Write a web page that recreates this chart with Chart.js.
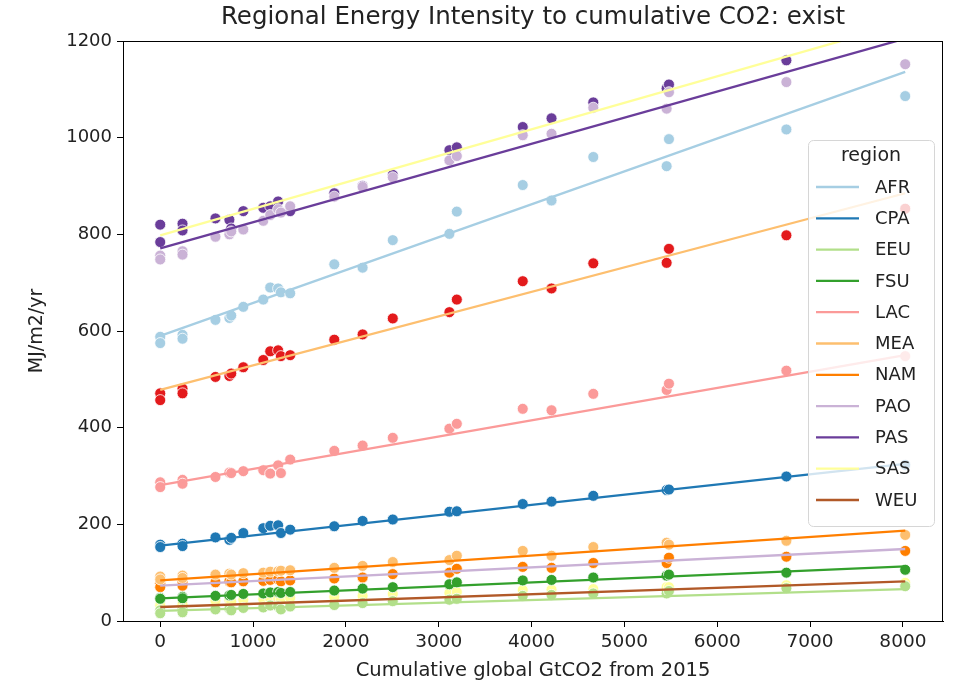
<!DOCTYPE html>
<html>
<head>
<meta charset="utf-8">
<script src="https://cdn.jsdelivr.net/npm/chart.js@4"></script>
<style>
  html, body { margin: 0; padding: 0; background: #fff; }
  #wrap { width: 956px; height: 686px; }
</style>
</head>
<body>
<div id="wrap"><canvas id="chart" width="956" height="686"></canvas></div>
<script>
// regions, in legend order
const regions = ['AFR', 'CPA', 'EEU', 'FSU', 'LAC', 'MEA', 'NAM', 'PAO', 'PAS', 'SAS', 'WEU'];

// cumulative global GtCO2 from 2015 (shared by all regions)
const cumCO2 = [0, 0, 240, 240, 595, 745, 765, 895, 1110, 1185, 1270, 1300, 1400, 1875, 2180, 2505, 3115, 3195, 3905, 4215, 4665, 5455, 5480, 6745, 8025];

// energy intensity MJ/m2/yr per region
const AFR = [588, 575, 592, 584, 623, 627, 632, 650, 665, 690, 688, 680, 678, 738, 731, 788, 801, 847, 902, 870, 960, 941, 997, 1017, 1086];
const CPA = [158, 153, 160, 155, 173, 168, 172, 182, 192, 197, 198, 182, 189, 196, 207, 210, 226, 227, 242, 247, 259, 271, 272, 299, 323];
const EEU = [22, 16, 24, 18, 24, 25, 22, 27, 28, 32, 30, 24, 30, 33, 37, 41, 44, 46, 52, 54, 57, 57, 62, 68, 72];
const FSU = [48, 46, 50, 47, 52, 53, 54, 56, 57, 59, 60, 58, 60, 63, 67, 70, 76, 80, 84, 85, 90, 94, 96, 100, 106];
const LAC = [287, 277, 292, 284, 298, 307, 306, 310, 312, 305, 322, 306, 334, 352, 363, 379, 398, 408, 439, 436, 470, 478, 491, 518, 548];
const MEA = [471, 457, 481, 471, 505, 507, 512, 525, 540, 558, 560, 548, 550, 582, 593, 626, 639, 665, 703, 688, 740, 741, 770, 798, 853];
const NAM = [92, 86, 94, 89, 96, 98, 96, 99, 100, 102, 103, 104, 105, 110, 114, 122, 126, 135, 145, 135, 153, 162, 158, 166, 178];
const PAO = [78, 70, 80, 73, 80, 82, 80, 82, 83, 85, 86, 82, 84, 88, 90, 97, 100, 108, 112, 110, 120, 120, 131, 133, 145];
const PAS = [756, 748, 765, 758, 795, 800, 806, 810, 828, 840, 852, 845, 858, 878, 898, 918, 953, 962, 1005, 1008, 1062, 1060, 1094, 1115, 1152];
const SAS = [820, 784, 822, 808, 833, 830, 812, 848, 855, 858, 868, 846, 848, 885, 900, 923, 974, 980, 1022, 1040, 1073, 1102, 1110, 1160, 1235];
const WEU = [36, 32, 38, 34, 42, 43, 40, 44, 45, 46, 47, 44, 48, 50, 52, 56, 58, 60, 64, 65, 66, 70, 70, 74, 79];
const series = [AFR, CPA, EEU, FSU, LAC, MEA, NAM, PAO, PAS, SAS, WEU];

// fitted trend lines, value at x = 0 and at the last x
const fitStart = [590, 156, 21, 47, 281, 478, 84, 73, 771, 798, 29];
const fitEnd = [1136, 325, 66, 113, 550, 885, 187, 149, 1205, 1238, 82];

const xTicks = [0, 1000, 2000, 3000, 4000, 5000, 6000, 7000, 8000];
const yTicks = [0, 200, 400, 600, 800, 1000, 1200];

// Paired palette: points use the first 11 colours, lines skip the red one
const pointColors = ['#a6cee3', '#1f78b4', '#b2df8a', '#33a02c', '#fb9a99', '#e31a1c',
  '#fdbf6f', '#ff7f00', '#cab2d6', '#6a3d9a', '#ffff99'];
const lineColors = ['#a6cee3', '#1f78b4', '#b2df8a', '#33a02c', '#fb9a99', '#fdbf6f',
  '#ff7f00', '#cab2d6', '#6a3d9a', '#ffff99', '#b15928'];

const FONT = 'DejaVu Sans';
const TITLE = 'Regional Energy Intensity to cumulative CO2: exist';
const xMin = cumCO2[0], xMax = cumCO2[cumCO2.length - 1];

const datasets = [];
regions.forEach((r, i) => {
  datasets.push({
    label: r + ' fit',
    type: 'line',
    data: [{ x: xMin, y: fitStart[i] }, { x: xMax, y: fitEnd[i] }],
    borderColor: lineColors[i],
    borderWidth: 2.3,
    pointRadius: 0,
    fill: false,
    order: 0,
    clip: 0
  });
});
regions.forEach((r, i) => {
  datasets.push({
    label: r,
    type: 'scatter',
    data: cumCO2.map((x, k) => ({ x: x, y: series[i][k] })),
    backgroundColor: pointColors[i],
    borderColor: '#ffffff',
    borderWidth: 0.8,
    pointRadius: 5.5,
    order: 1,
    clip: 0
  });
});

// title over the axes, frame around them and the legend box inside
const framePlugin = {
  id: 'frame',
  afterDatasetsDraw(chart) {
    const { ctx, chartArea: a } = chart;
    ctx.save();
    ctx.strokeStyle = '#000';
    ctx.lineWidth = 1;
    ctx.strokeRect(a.left + 0.5, a.top + 0.5, a.right - a.left - 1, a.bottom - a.top);

    ctx.fillStyle = '#222';
    ctx.font = '24.5px "' + FONT + '"';
    ctx.textAlign = 'center';
    ctx.textBaseline = 'middle';
    ctx.fillText(TITLE, (a.left + a.right) / 2, 18);

    // legend
    const bx = 808, by = 140, bw = 126, bh = 386, rad = 5;
    ctx.beginPath();
    ctx.roundRect(bx + 0.5, by + 0.5, bw, bh, rad);
    ctx.fillStyle = 'rgba(255,255,255,0.8)';
    ctx.fill();
    ctx.strokeStyle = '#d6d6d6';
    ctx.stroke();

    ctx.fillStyle = '#222';
    ctx.font = '19px "' + FONT + '"';
    ctx.fillText('region', bx + bw / 2, by + 16);

    ctx.font = '18px "' + FONT + '"';
    ctx.textAlign = 'left';
    regions.forEach((r, i) => {
      const y = by + 47 + i * 31.3;
      ctx.beginPath();
      ctx.moveTo(816, y);
      ctx.lineTo(859, y);
      ctx.strokeStyle = lineColors[i];
      ctx.lineWidth = 2.3;
      ctx.stroke();
      ctx.fillStyle = '#222';
      ctx.fillText(r, 875, y + 1);
    });
    ctx.restore();
  }
};

new Chart(document.getElementById('chart'), {
  type: 'scatter',
  data: { datasets: datasets },
  plugins: [framePlugin],
  options: {
    responsive: false,
    animation: false,
    devicePixelRatio: 1,
    layout: { padding: { left: 0, top: 41, right: 13, bottom: 0 } },
    plugins: {
      legend: { display: false },
      tooltip: { enabled: false },
      title: { display: false }
    },
    scales: {
      x: {
        type: 'linear',
        min: -401,
        max: 8432,
        afterFit: s => { s.height = 65; },
        afterBuildTicks: s => { s.ticks = xTicks.map(v => ({ value: v })); },
        border: { display: true, color: '#000', width: 1 },
        grid: { drawOnChartArea: false, drawTicks: true, tickLength: 6, tickColor: '#000', tickWidth: 1 },
        ticks: { color: '#222', font: { family: FONT, size: 18.5 }, padding: 4, maxRotation: 0, callback: v => String(v) },
        title: {
          display: true,
          text: 'Cumulative global GtCO2 from 2015',
          color: '#222',
          font: { family: FONT, size: 19.5, lineHeight: 1.2 },
          padding: { top: 0, bottom: 3.4 }
        }
      },
      y: {
        type: 'linear',
        min: 0,
        max: 1200,
        afterFit: s => { s.width = 123; },
        afterBuildTicks: s => { s.ticks = yTicks.map(v => ({ value: v })); },
        border: { display: true, color: '#000', width: 1 },
        grid: { drawOnChartArea: false, drawTicks: true, tickLength: 6, tickColor: '#000', tickWidth: 1 },
        ticks: { color: '#222', font: { family: FONT, size: 18 }, padding: 5, callback: v => String(v) },
        title: {
          display: true,
          text: 'MJ/m2/yr',
          color: '#222',
          font: { family: FONT, size: 19, lineHeight: 1.2 },
          padding: { top: 25.6, bottom: 0 }
        }
      }
    }
  }
});
</script>
</body>
</html>
